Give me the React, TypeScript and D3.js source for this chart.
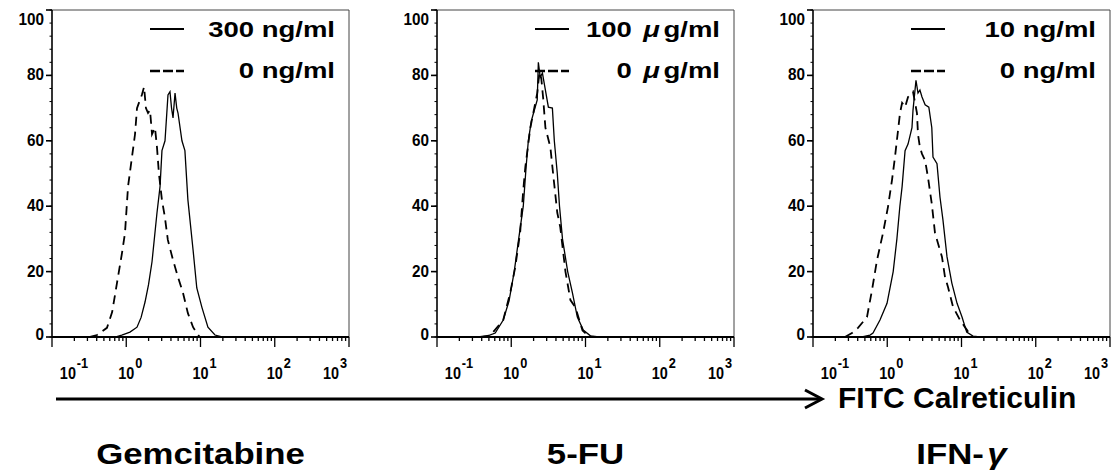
import React, { useRef, useEffect } from "react";
import * as d3 from "d3";

// panel titles and legend labels
const panelTitles = ["Gemcitabine", "5-FU", "IFN-γ"];
const treatedLabels = ["300 ng/ml", "100 μg/ml", "10 ng/ml"];
const controlLabels = ["0 ng/ml", "0 μg/ml", "0 ng/ml"];
const axisTitle = "FITC Calreticulin";

// tick values
const decades = [-1, 0, 1, 2, 3];
const yTicks = [0, 20, 40, 60, 80, 100];

// histograms: [log10 fluorescence, count]
const gemTreated: [number, number][] = [
  [-0.35, 0], [-0.15, 0], [-0.06, 0.6], [0.05, 1.5], [0.145, 3], [0.2, 6], [0.253, 10.7],
  [0.3, 16], [0.347, 23], [0.414, 38], [0.455, 46], [0.481, 57], [0.522, 60], [0.562, 74],
  [0.589, 75], [0.61, 70], [0.63, 67], [0.657, 74.6], [0.68, 70], [0.697, 68.5], [0.75, 60],
  [0.79, 57], [0.83, 42], [0.9, 26.6], [0.95, 15], [1.02, 9], [1.1, 3], [1.195, 0.6], [1.29, 0],
];
const gemControl: [number, number][] = [
  [-0.5, 0], [-0.394, 0.6], [-0.26, 2.8], [-0.19, 7.6], [-0.125, 16.5], [-0.057, 25.7],
  [-0.017, 31.8], [0.024, 46], [0.077, 55], [0.118, 62], [0.145, 70], [0.185, 72.5],
  [0.21, 74], [0.24, 76.5], [0.265, 70], [0.293, 68.5], [0.32, 69.4], [0.347, 62],
  [0.387, 64], [0.414, 58], [0.44, 50], [0.48, 42], [0.52, 36.7], [0.56, 29.7], [0.63, 23.5],
  [0.697, 18.3], [0.764, 13.5], [0.83, 7.3], [0.9, 3], [0.95, 1.2], [0.99, 0],
];
const fuTreated: [number, number][] = [
  [-0.42, 0], [-0.324, 0.3], [-0.216, 1.2], [-0.108, 5.2], [-0.03, 11], [0.04, 20], [0.1, 30],
  [0.162, 40], [0.2, 52], [0.23, 60], [0.27, 66], [0.3, 68.5], [0.35, 72.5], [0.365, 84],
  [0.39, 79.5], [0.42, 80.7], [0.46, 75.5], [0.5, 70.3], [0.554, 70], [0.58, 60], [0.62, 50],
  [0.65, 40], [0.69, 30], [0.76, 20], [0.824, 13.5], [0.89, 6.1], [0.97, 2.1], [1.07, 0.3], [1.18, 0],
];
const fuControl: [number, number][] = [
  [-0.42, 0], [-0.28, 0.5], [-0.108, 5.2], [-0.014, 13.5], [0.054, 21.4], [0.12, 32],
  [0.162, 45], [0.19, 52], [0.257, 64], [0.297, 68.5], [0.35, 74.6], [0.38, 81], [0.405, 79],
  [0.43, 73], [0.46, 64], [0.527, 58], [0.568, 49], [0.62, 38], [0.66, 33.6], [0.73, 20],
  [0.797, 11.3], [0.865, 9], [0.96, 2], [1.03, 0.5], [1.09, 0],
];
const ifnTreated: [number, number][] = [
  [-0.34, 0], [-0.232, 0.6], [-0.192, 1.2], [-0.098, 5.2], [-0.003, 10.3], [0.08, 20], [0.13, 30],
  [0.17, 40], [0.2, 46], [0.24, 57], [0.28, 59], [0.333, 64], [0.347, 69.4], [0.387, 78.5],
  [0.414, 74.6], [0.44, 75.5], [0.468, 73.4], [0.51, 71], [0.56, 70.3], [0.6, 64], [0.616, 55],
  [0.67, 53], [0.71, 42.8], [0.75, 35.8], [0.805, 24.5], [0.87, 16.5], [0.94, 10.3],
  [1.007, 6.1], [1.07, 1.5], [1.155, 0.3], [1.25, 0],
];
const ifnControl: [number, number][] = [
  [-0.57, 0], [-0.475, 1.2], [-0.394, 2.8], [-0.273, 6.1], [-0.205, 14.4], [-0.138, 23.5],
  [-0.057, 31.8], [0.01, 39.8], [0.064, 48], [0.104, 55], [0.172, 68.5], [0.2, 71.6],
  [0.24, 70.3], [0.28, 73.4], [0.347, 75], [0.4, 68.5], [0.414, 62], [0.44, 58], [0.468, 56],
  [0.51, 54], [0.55, 48.6], [0.6, 40.7], [0.643, 31.8], [0.737, 24.5], [0.778, 18.3],
  [0.818, 15.3], [0.886, 9.2], [0.98, 5.2], [1.074, 2.1], [1.14, 0],
];

const treatedSeries = [gemTreated, fuTreated, ifnTreated];
const controlSeries = [gemControl, fuControl, ifnControl];

const W = 1114;
const H = 475;
const plotTop = 10;
const plotBottom = 337;
const plotWidth = 297;
const panelLeft = [52, 437, 813];
const font = "'Liberation Sans', Arial, Helvetica, sans-serif";

// text squeezed or stretched horizontally, the source figure's lettering is not square
function scaledText(parent: any, x: number, y: number, sx: number, size: number, anchor: string) {
  return parent
    .append("g")
    .attr("transform", `translate(${x},${y}) scale(${sx},1)`)
    .append("text")
    .attr("text-anchor", anchor)
    .attr("font-family", font)
    .attr("font-weight", "bold")
    .attr("font-size", size);
}

// writes a label, putting greek letters in italic tspans
function writeLabel(text: any, str: string) {
  const parts = str.split(/([μγ])/);
  let afterGreek = false;
  parts.forEach((part) => {
    if (!part) return;
    const t = text.append("tspan").text(part);
    if (/[μγ]/.test(part)) {
      t.attr("font-style", "italic").attr("dx", 3);
      afterGreek = true;
    } else if (afterGreek) {
      t.attr("dx", 3);
      afterGreek = false;
    }
  });
}

const App = () => {
  const svgRef = useRef<SVGSVGElement>(null);

  useEffect(() => {
    const svg = d3.select(svgRef.current);
    svg.selectAll("*").remove();

    const y = d3.scaleLinear().domain([0, 100]).range([plotBottom, plotTop]);

    panelTitles.forEach((title, i) => {
      const x0 = panelLeft[i];
      const x1 = x0 + plotWidth;
      const x = d3.scaleLog().domain([0.1, 1000]).range([x0, x1]);
      const g = svg.append("g");

      // frame
      g.append("line").attr("x1", x0).attr("x2", x1).attr("y1", plotTop).attr("y2", plotTop)
        .attr("stroke", "#444").attr("stroke-width", 1);
      g.append("line").attr("x1", x1).attr("x2", x1).attr("y1", plotTop).attr("y2", plotBottom)
        .attr("stroke", "#444").attr("stroke-width", 1);

      // y axis
      g.append("line").attr("x1", x0).attr("x2", x0).attr("y1", plotTop).attr("y2", plotBottom)
        .attr("stroke", "#000").attr("stroke-width", 1.6);
      g.selectAll(".yminor").data(d3.range(0, 101, 4)).enter().append("line")
        .attr("x1", x0 - 2.5).attr("x2", x0).attr("y1", (d) => y(d)).attr("y2", (d) => y(d))
        .attr("stroke", "#000").attr("stroke-width", 1);
      g.selectAll(".ymajor").data(yTicks).enter().append("line")
        .attr("x1", x0 - 6).attr("x2", x0).attr("y1", (d) => y(d)).attr("y2", (d) => y(d))
        .attr("stroke", "#000").attr("stroke-width", 1.6);
      yTicks.forEach((v) => {
        scaledText(g, x0 - 8, y(v) + (v === 100 ? 15 : v === 0 ? 3 : 5), 0.9, 17, "end").text(v);
      });

      // x axis
      g.append("line").attr("x1", x0).attr("x2", x1).attr("y1", plotBottom).attr("y2", plotBottom)
        .attr("stroke", "#000").attr("stroke-width", 2.2);
      g.selectAll(".xtick").data(x.ticks()).enter().append("line")
        .attr("x1", (d) => x(d)).attr("x2", (d) => x(d))
        .attr("y1", plotBottom)
        .attr("y2", (d) => plotBottom + (Math.abs(Math.log10(d) - Math.round(Math.log10(d))) < 1e-6 ? 10 : 4))
        .attr("stroke", "#000").attr("stroke-width", 1.3);

      decades.forEach((e, k) => {
        const nudge = k === 0 ? 22 : k === decades.length - 1 ? -14 : 4;
        const t = scaledText(g, x(Math.pow(10, e)) + nudge, 379, 0.85, 17, "middle");
        t.append("tspan").text("10");
        t.append("tspan").attr("dy", -11).attr("dx", 1).attr("font-size", 15).text(String(e));
      });

      // histograms
      const line = d3.line<[number, number]>()
        .x((d) => x(Math.pow(10, d[0])))
        .y((d) => y(d[1]));

      g.append("path").datum(controlSeries[i]).attr("d", line)
        .attr("fill", "none").attr("stroke", "#000").attr("stroke-width", 1.8)
        .attr("stroke-dasharray", "9,6");
      g.append("path").datum(treatedSeries[i]).attr("d", line)
        .attr("fill", "none").attr("stroke", "#000").attr("stroke-width", 1.3);

      // legend
      const lx1 = x1 - 199;
      const lx2 = x1 - 165;
      g.append("line").attr("x1", lx1).attr("x2", lx2).attr("y1", 29).attr("y2", 29)
        .attr("stroke", "#000").attr("stroke-width", 2.2);
      g.append("line").attr("x1", lx1).attr("x2", lx2).attr("y1", 71).attr("y2", 71)
        .attr("stroke", "#000").attr("stroke-width", 2.6).attr("stroke-dasharray", "10,3");
      [treatedLabels[i], controlLabels[i]].forEach((lab, r) => {
        const t = scaledText(g, x1 - 14, r === 0 ? 37 : 78, 1.25, 22, "end");
        writeLabel(t, lab);
      });

      // drug name
      const tt = scaledText(g, (x0 + x1) / 2, 464, 1.16, 30, "middle");
      writeLabel(tt, title);
    });

    // fluorescence arrow
    svg.append("line").attr("x1", 56).attr("x2", 821).attr("y1", 399).attr("y2", 399)
      .attr("stroke", "#000").attr("stroke-width", 3);
    svg.append("path").attr("d", d3.line()([[805, 390], [822, 399], [805, 408]]))
      .attr("fill", "none").attr("stroke", "#000").attr("stroke-width", 3);
    svg.append("text").attr("x", 838).attr("y", 408)
      .attr("font-family", font).attr("font-weight", "bold").attr("font-size", 30)
      .text(axisTitle);
  }, []);

  return (
    <svg
      ref={svgRef}
      width={W}
      height={H}
      style={{ position: "absolute", left: 0, top: 0, background: "#fff" }}
    />
  );
};

export default App;
